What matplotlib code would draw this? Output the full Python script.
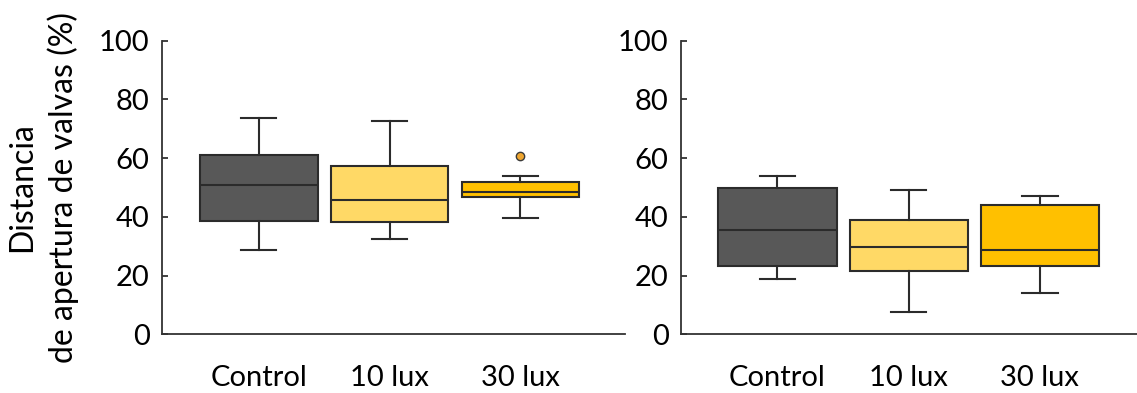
import matplotlib.pyplot as plt

plt.rcParams['font.family'] = ['Lato', 'DejaVu Sans']

# -----------------------------
# Data
# -----------------------------

groups = ["Control", "10 lux", "30 lux"]
colors = ["#585858", "#FFD966", "#FFC000"]

# left panel
left_whislo = [28.8, 32.6, 39.5]
left_q1 = [38.5, 38.4, 46.6]
left_med = [50.9, 45.8, 48.4]
left_q3 = [61.0, 57.3, 51.8]
left_whishi = [73.8, 72.7, 53.8]
left_fliers = [[], [], [60.6]]

# right panel
right_whislo = [18.9, 7.6, 14.1]
right_q1 = [23.2, 21.5, 23.2]
right_med = [35.4, 29.6, 28.8]
right_q3 = [49.8, 38.9, 43.9]
right_whishi = [54.0, 49.0, 47.0]
right_fliers = [[], [], []]

yticks = [0, 20, 40, 60, 80, 100]
ylabel = "Distancia\nde apertura de valvas (%)"


def make_stats(whislo, q1, med, q3, whishi, fliers):
    stats = []
    for i in range(len(groups)):
        stats.append({
            "label": groups[i],
            "whislo": whislo[i],
            "q1": q1[i],
            "med": med[i],
            "q3": q3[i],
            "whishi": whishi[i],
            "fliers": fliers[i],
        })
    return stats


def draw_panel(ax, stats):
    edge = "#2b2b2b"
    bp = ax.bxp(
        stats,
        positions=[1, 2, 3],
        widths=0.9,
        patch_artist=True,
        showfliers=True,
        boxprops=dict(edgecolor=edge, linewidth=1.5),
        medianprops=dict(color=edge, linewidth=1.5),
        whiskerprops=dict(color=edge, linewidth=1.5),
        capprops=dict(color=edge, linewidth=1.5),
        capwidths=0.27,
        flierprops=dict(marker="o", markersize=6, markerfacecolor="#EFA630",
                        markeredgecolor="#3a3a3a", markeredgewidth=1.0),
    )
    for patch, c in zip(bp["boxes"], colors):
        patch.set_facecolor(c)

    ax.set_ylim(0, 100)
    ax.set_yticks(yticks)
    ax.set_xlim(0.26, 3.8)
    ax.set_xticks([1, 2, 3])
    ax.set_xticklabels(groups)
    ax.spines["top"].set_visible(False)
    ax.spines["right"].set_visible(False)
    for s in ["left", "bottom"]:
        ax.spines[s].set_color("#333333")
        ax.spines[s].set_linewidth(1.3)
    ax.tick_params(axis="y", direction="in", length=4, width=1.3,
                   color="#333333", labelsize=21, pad=9)
    ax.tick_params(axis="x", length=0, labelsize=21, pad=22)


# -----------------------------
# Figure
# -----------------------------

fig = plt.figure(figsize=(11.37, 3.93), dpi=100)
ax1 = fig.add_axes([0.1425, 0.1494, 0.4072, 0.747])
ax2 = fig.add_axes([0.599, 0.1494, 0.401, 0.747])

draw_panel(ax1, make_stats(left_whislo, left_q1, left_med, left_q3,
                           left_whishi, left_fliers))
draw_panel(ax2, make_stats(right_whislo, right_q1, right_med, right_q3,
                           right_whishi, right_fliers))
ax2.set_xlim(0.265, 3.74)

ax1.set_ylabel(ylabel, fontsize=23, linespacing=1.4, labelpad=14)

fig.savefig("out.png", dpi=100)
plt.close()
